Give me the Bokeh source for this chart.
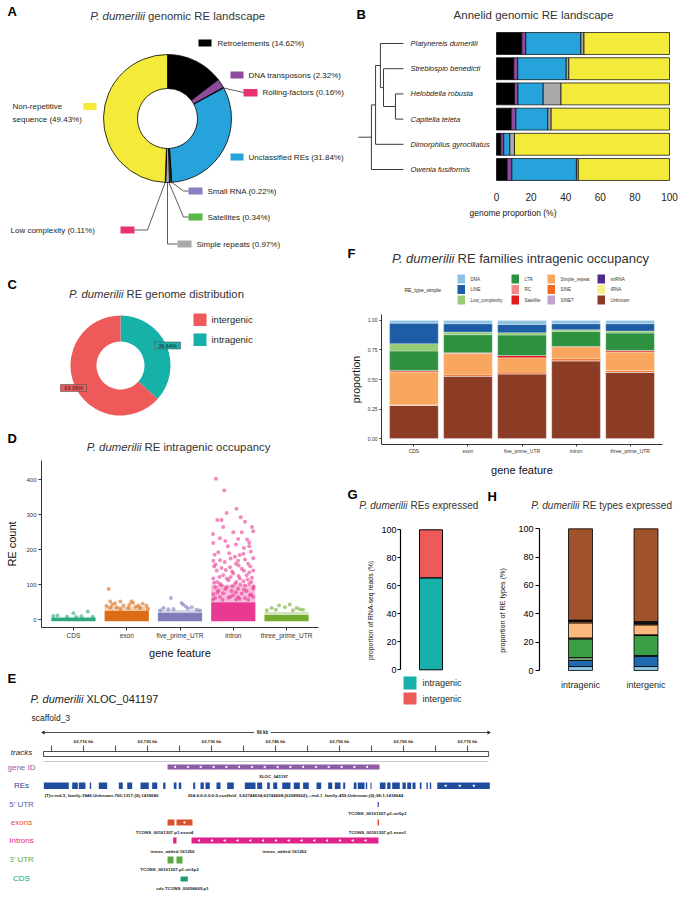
import numpy as np
from bokeh.plotting import figure
from bokeh.layouts import column, row
from bokeh.models import Range1d, Label, ColumnDataSource, FixedTicker, NumeralTickFormatter
from bokeh.core.properties import value
from bokeh.embed import file_html
from bokeh.resources import INLINE

FONT = "Liberation Sans"
INK = "#231F20"

# ============================ DATA ============================
# A  P. dumerilii genomic RE landscape (% genome)
a_classes = ["Retroelements", "DNA transposons", "Rolling-factors", "Unclassified REs",
             "Small RNA", "Satellites", "Simple repeats", "Low complexity",
             "Non-repetitive sequence"]
a_percent = [14.62, 2.32, 0.16, 31.84, 0.22, 0.34, 0.97, 0.11, 49.43]
a_colors = ["#000000", "#8E4A9B", "#E8336F", "#27A3DC", "#8C80C0", "#57B847",
            "#A7A9AB", "#E8336F", "#F4EA3A"]

# B  Annelid genomic RE landscape (% genome)
b_species = ["Platynereis dumerilii", "Streblospio benedicti", "Helobdella robusta",
             "Capitella teleta", "Dimorphilus gyrociliatus", "Owenia fusiformis"]
b_retro = [14.62, 10.0, 10.4, 8.5, 2.5, 6.2]
b_dna = [2.32, 2.3, 2.0, 2.7, 1.7, 2.7]
b_unclassified = [31.84, 28.0, 14.6, 18.5, 3.5, 37.3]
b_simple_other = [1.80, 1.5, 10.3, 1.9, 2.7, 1.1]
b_nonrep = [49.42, 58.2, 62.7, 68.4, 89.6, 52.7]
b_colors = ["#000000", "#8E4A9B", "#27A3DC", "#A7A9AB", "#F4EA3A"]
b_ticks = [0, 20, 40, 60, 80, 100]
b_tip_depth = -53.8
b_root_depth = -79.8
b_nodes = [("Helobdella robusta", "Capitella teleta", "n1", -58.4),
           ("Streblospio benedicti", "n1", "n2", -65.3),
           ("Platynereis dumerilii", "n2", "n3", -67.1),
           ("n3", "Dimorphilus gyrociliatus", "n4", -69.9),
           ("n4", "Owenia fusiformis", "n5", -72.3)]

# C  RE genome distribution (%)
c_cats = ["intergenic", "intragenic"]
c_percent = [63.36, 36.64]
c_colors = ["#EE5A5A", "#16B2AA"]

# D  RE count per gene feature (jittered clouds)
d_features = ["CDS", "exon", "five_prime_UTR", "intron", "three_prime_UTR"]
d_colors = ["#1B9E77", "#D95F02", "#7570B3", "#E7298A", "#66A61E"]
d_core_top = [6, 26, 20, 50, 14]
d_halo_top = [9, 38, 28, 100, 22]
d_cds_pts = [(0.00, 19), (0.27, 24), (-0.30, 12), (0.15, 10), (-0.12, 9), (0.36, 9),
             (-0.38, 11), (0.05, 8)]
d_exon_pts = [(-0.34, 88), (-0.31, 52), (-0.22, 47), (-0.12, 52), (0.09, 53), (0.12, 48),
              (0.22, 41), (0.30, 46), (0.37, 41), (-0.06, 41), (-0.19, 36), (0.03, 34),
              (-0.31, 35), (0.25, 34), (0.40, 31), (-0.12, 31), (0.17, 37), (-0.38, 40),
              (-0.27, 43), (0.05, 44)]
d_five_pts = [(-0.17, 62), (0.03, 48), (0.06, 43), (0.11, 38), (0.22, 36), (-0.31, 34),
              (-0.12, 31), (0.31, 29), (0.37, 27), (-0.37, 27), (-0.22, 30), (0.15, 32)]
d_intron_pts = [(-0.325, 403), (-0.17, 369), (-0.125, 305), (0.06, 317), (0.14, 293),
                (-0.30, 285), (-0.22, 285), (0.375, 253), (-0.19, 265), (0.0, 250),
                (0.16, 250), (0.09, 231), (0.26, 229), (0.30, 221), (-0.375, 219),
                (-0.25, 233), (-0.28, 193), (-0.075, 190), (0.19, 189), (0.03, 180),
                (0.375, 176), (-0.375, 169), (-0.16, 165), (0.09, 169), (0.28, 160),
                (-0.06, 150), (0.16, 146), (-0.31, 141), (0.375, 141), (0.0, 132),
                (-0.19, 127), (0.25, 127), (-0.375, 118), (0.125, 118), (-0.09, 113),
                (0.34, 108), (-0.25, 103), (0.03, 103), (0.22, 98), (-0.34, 93),
                (-0.125, 93), (0.09, 89), (0.375, 89), (-0.28, 84), (-0.03, 82),
                (0.25, 82), (-0.19, 76), (0.16, 75), (-0.375, 73), (0.0, 70),
                (0.31, 70), (-0.25, 65), (-0.09, 63), (0.09, 65), (0.22, 62),
                (0.375, 65), (-0.34, 62), (0.2, 205), (-0.1, 210), (0.33, 195),
                (-0.33, 158), (0.1, 155), (-0.22, 148), (0.3, 135), (-0.05, 122),
                (0.19, 110), (-0.3, 108), (-0.38, 58), (-0.2, 57), (0.05, 58),
                (0.28, 57), (0.12, 60), (-0.05, 66), (0.34, 72), (-0.3, 78), (0.05, 79),
                (0.2, 86), (-0.15, 88), (0.38, 95), (-0.02, 96), (-0.22, 99), (0.13, 101),
                (0.3, 104), (-0.36, 106), (0.06, 108), (-0.12, 118), (0.27, 115),
                (0.35, 120), (-0.26, 122), (0.1, 125), (-0.02, 138), (0.2, 140),
                (-0.14, 142), (0.32, 152), (-0.36, 152), (0.05, 160), (-0.25, 170),
                (0.22, 172), (-0.05, 175), (0.12, 185), (-0.35, 186), (0.3, 210),
                (-0.15, 225), (0.05, 215), (-0.38, 245), (0.35, 265), (0.22, 280)]
d_three_pts = [(-0.14, 41), (0.06, 44), (-0.03, 36), (0.19, 34), (-0.28, 34), (0.31, 29),
               (-0.37, 27), (0.12, 27), (0.25, 30), (-0.20, 29)]
d_ticks = [0, 100, 200, 300, 400]

# F  RE families intragenic occupancy (proportion)
f_features = ["CDS", "exon", "five_prime_UTR", "intron", "three_prime_UTR"]
f_types = ["DNA", "LINE", "Low_complexity", "LTR", "RC", "Satellite",
           "Simple_repeat", "SINE", "SINE?", "snRNA", "tRNA", "Unknown"]
f_colors = ["#8DC3E0", "#1C5DA6", "#96CB77", "#2E9140", "#F28A8A", "#E31A1C",
            "#F9A65E", "#F26B21", "#C0A3D1", "#4B2C8E", "#F3EF8E", "#8C3B25"]
f_DNA = [0.023, 0.028, 0.034, 0.028, 0.028]
f_LINE = [0.174, 0.071, 0.070, 0.051, 0.062]
f_Low_complexity = [0.062, 0.022, 0.020, 0.014, 0.017]
f_LTR = [0.164, 0.152, 0.172, 0.127, 0.147]
f_RC = [0.006, 0.005, 0.000, 0.000, 0.004]
f_Satellite = [0.008, 0.004, 0.020, 0.004, 0.010]
f_Simple_repeat = [0.276, 0.174, 0.121, 0.100, 0.155]
f_SINE = [0.005, 0.014, 0.014, 0.017, 0.014]
f_SINEq = [0.0, 0.0, 0.0, 0.0, 0.0]
f_snRNA = [0.0, 0.0, 0.0, 0.0, 0.0]
f_tRNA = [0.0, 0.0, 0.0, 0.0, 0.0]
f_Unknown = [0.282, 0.530, 0.549, 0.659, 0.563]

# G  REs expressed (% RNA-seq reads)
g_cats = ["intragenic", "intergenic"]
g_percent = [65.7, 34.3]
g_colors = ["#16B2AA", "#EE5A5A"]

# H  RE types expressed (% of RE types)
h_groups = ["intragenic", "intergenic"]
h_types = ["DNA", "LINE", "Low_complexity", "LTR", "RC", "Simple_repeat", "SINE",
           "snRNA", "Unknown"]
h_colors = ["#8CC5E3", "#1E69B0", "#7FA779", "#3A9E44", "#E8636A", "#FDB97D",
            "#D9782F", "#1A1A1A", "#A0522D"]
h_DNA = [2.8, 2.8]
h_LINE = [4.3, 7.1]
h_Low_complexity = [2.0, 0.7]
h_LTR = [13.2, 14.1]
h_RC = [0.7, 0.5]
h_Simple_repeat = [10.6, 7.0]
h_SINE = [1.0, 0.8]
h_snRNA = [1.0, 1.5]
h_Unknown = [64.4, 65.5]
h_ticks = [0, 20, 40, 60, 80, 100]

# E  genome browser, scaffold_3 (kb)
e_ruler = (62703.75, 62773.30)
e_major_kb = [62710, 62720, 62730, 62740, 62750, 62760, 62770]
e_minor_kb = [62705, 62715, 62725, 62735, 62745, 62755, 62765]
e_gene = (62723.13, 62756.25)
e_gene_name = "XLOC_041197"
e_re_start = [62703.80, 62708.23, 62709.27, 62710.98, 62712.39, 62715.52, 62716.83,
              62718.91, 62720.73, 62722.45, 62724.11, 62724.89, 62727.14, 62728.28,
              62729.06, 62730.78, 62732.45, 62735.20, 62737.14, 62738.70, 62739.64,
              62741.05, 62742.86, 62744.31, 62746.41, 62748.23, 62749.27, 62750.58,
              62752.23, 62752.86, 62754.11, 62754.84, 62756.30, 62757.45, 62758.23,
              62759.84, 62760.58, 62761.41, 62762.55, 62763.59, 62764.11, 62765.27]
e_re_end = [62707.70, 62709.11, 62710.31, 62711.20, 62713.70, 62716.14, 62717.61,
            62720.20, 62721.52, 62722.81, 62724.53, 62725.27, 62727.45, 62728.80,
            62729.73, 62731.41, 62733.48, 62736.88, 62737.92, 62739.11, 62740.27,
            62742.34, 62743.80, 62745.20, 62747.14, 62748.86, 62750.16, 62750.89,
            62752.66, 62753.91, 62754.33, 62755.00, 62757.19, 62757.97, 62759.42,
            62760.36, 62761.20, 62761.88, 62762.81, 62763.80, 62764.33, 62773.48]
e_utr5 = [(62755.94, 62756.17)]
e_exons = [(62723.13, 62724.22), (62724.53, 62727.03), (62755.94, 62756.17)]
e_introns = [(62724.00, 62724.53), (62726.88, 62756.09)]
e_utr3 = [(62723.13, 62724.06), (62724.53, 62725.47)]
e_cds = [(62725.16, 62726.30)]
e_tracks = ["tracks", "gene ID", "REs", "5' UTR", "exons", "Introns", "3' UTR", "CDS"]
e_track_colors = ["#231F20", "#8E5AA8", "#23429B", "#4E5BA8", "#E0552B", "#E01F8A",
                  "#5AAA46", "#1E9C6E"]
e_re_names = ["(T)n;rnd-5_family-3946;Unknown;700;1317;(0);1418680",
              "264;6.6;0.0;0.0;scaffold_3;62744634;62744668;(62089602);-;rnd-1_family-459;Unknown;(0);38;1;1418644"]


# ============================ HELPERS ============================
def pixfig(x0, x1, y0, y1):
    p = figure(width=int(x1 - x0), height=int(y1 - y0),
               x_range=Range1d(x0, x1), y_range=Range1d(y1, y0),
               x_axis_type=None, y_axis_type=None,
               toolbar_location=None, output_backend="svg",
               min_border=0, min_border_left=0, min_border_right=0,
               min_border_top=0, min_border_bottom=0, outline_line_color=None)
    return p


def lab(p, x, y, text, size=8, color=INK, align="left", base="middle", style="normal", angle=0):
    p.add_layout(Label(x=x, y=y, text=text, text_font=FONT, text_font_size=f"{size}px",
                       text_color=color, text_align=align, text_baseline=base,
                       text_font_style=style, angle=angle))


def title2(p, x_it, x_rest, y, ital, rest, size, color="#333333"):
    lab(p, x_it, y, ital, size, color, align="right", style="italic")
    lab(p, x_rest, y, rest, size, color, align="left")


def letter(p, x, y, t):
    lab(p, x, y, t, 13, "#000000", style="bold")


def style_axis(ax, lab_size, title_size, color="#333333", tick_out=3, width=1):
    ax.axis_line_color = color
    ax.axis_line_width = width
    ax.major_tick_line_color = color
    ax.major_tick_line_width = width
    ax.major_tick_out = tick_out
    ax.major_tick_in = 0
    ax.minor_tick_line_color = None
    ax.major_label_text_font = FONT
    ax.major_label_text_font_size = f"{lab_size}px"
    ax.major_label_text_color = color
    ax.axis_label_text_font = FONT
    ax.axis_label_text_font_style = "normal"
    ax.axis_label_text_font_size = f"{title_size}px"
    ax.axis_label_text_color = "#111111"


def box(p):
    return column(p, spacing=0)


# ============================ PANEL A ============================
pA = pixfig(0, 346, 0, 272)
letter(pA, 7, 11, "A")
title2(pA, 144.5, 147.5, 15, "P. dumerilii", "genomic RE landscape", 11.4)
a_cum = np.concatenate([[0.0], np.cumsum(a_percent)])
pA.annular_wedge(x=167, y=118, inner_radius=30, outer_radius=64,
                 start_angle=np.pi / 2 - 2 * np.pi * a_cum[:-1] / 100,
                 end_angle=np.pi / 2 - 2 * np.pi * a_cum[1:] / 100,
                 direction="clock", fill_color=a_colors, line_color="black", line_width=0.8)
a_sq = [(198, 211, 39, 46), (230, 243, 71, 78), (243, 257, 88.5, 96), (230, 243, 153, 160),
        (188, 202, 187, 194), (188, 202, 213, 220), (177, 191, 240, 247),
        (120, 134, 226, 233), (83, 96, 102.5, 109.5)]
pA.quad(left=[s[0] for s in a_sq], right=[s[1] for s in a_sq],
        top=[s[2] for s in a_sq], bottom=[s[3] for s in a_sq],
        fill_color=a_colors, line_color=None)
a_txt = [(217, 42.5), (248, 74.5), (262, 92), (248, 156.5), (207, 190.5), (207, 216.5),
         (196, 243.5), (10, 229.5)]
for i, (tx, ty) in enumerate(a_txt):
    lab(pA, tx, ty, f"{a_classes[i]} ({a_percent[i]:.2f}%)", 8)
lab(pA, 12, 106, "Non-repetitive", 8)
lab(pA, 12, 118.5, f"sequence ({a_percent[8]:.2f}%)", 8)
pA.multi_line(xs=[[221, 243], [170, 183, 188], [168, 183, 188], [167, 167, 177], [165, 147, 134]],
              ys=[[87, 92], [181, 190.5, 190.5], [181, 216.5, 216.5], [182, 243.5, 243.5],
                  [181, 229.5, 229.5]], line_color="#333333", line_width=0.8)

# ============================ PANEL C ============================
pC = pixfig(0, 346, 272, 425)
letter(pC, 7, 284, "C")
title2(pC, 123, 126, 293, "P. dumerilii", "RE genome distribution", 11.3)
c_order = [1, 0]
c_vals = [c_percent[i] for i in c_order]
c_cum = np.concatenate([[0.0], np.cumsum(c_vals)])
pC.annular_wedge(x=120, y=365, inner_radius=24, outer_radius=50,
                 start_angle=np.pi / 2 - 2 * np.pi * c_cum[:-1] / 100,
                 end_angle=np.pi / 2 - 2 * np.pi * c_cum[1:] / 100,
                 direction="clock", fill_color=[c_colors[i] for i in c_order], line_color=None)
c_lab_pos = [(73, 387.5), (167, 345)]
for i, (lx, ly) in enumerate(c_lab_pos):
    pC.rect(x=lx, y=ly, width=26, height=7, fill_color=c_colors[i], line_color="#555555",
            line_width=0.6)
    lab(pC, lx, ly, f"{c_percent[i]:.2f}%", 5.5, "#222222", align="center")
c_leg_y = [(313, 325.5), (333, 345.5)]
pC.quad(left=[193, 193], right=[206, 206], top=[c[0] for c in c_leg_y],
        bottom=[c[1] for c in c_leg_y], fill_color=c_colors, line_color=None)
for i, (t, b) in enumerate(c_leg_y):
    lab(pC, 211, (t + b) / 2, c_cats[i], 9.5)

# ============================ PANEL D ============================
pDh = pixfig(0, 346, 425, 455)
letter(pDh, 7, 438, "D")
title2(pDh, 141, 144, 446, "P. dumerilii", "RE intragenic occupancy", 11.4)

pD = figure(width=346, height=210, x_range=Range1d(0.4, 5.6), y_range=Range1d(-22, 455),
            toolbar_location=None, output_backend="svg", outline_line_color=None,
            min_border_left=41, min_border_right=28, min_border_top=5, min_border_bottom=38)
pD.xgrid.visible = False
pD.ygrid.visible = False
d_x = np.arange(1, len(d_features) + 1)
pD.vbar(x=d_x, width=0.83, bottom=d_core_top, top=d_halo_top, fill_color=d_colors,
        fill_alpha=0.3, line_color=None)
pD.vbar(x=d_x, width=0.83, bottom=-4, top=d_core_top, fill_color=d_colors,
        fill_alpha=0.92, line_color=None)
for i, pts in enumerate([d_cds_pts, d_exon_pts, d_five_pts, d_intron_pts, d_three_pts]):
    pD.scatter(x=[i + 1 + p[0] for p in pts], y=[p[1] for p in pts], size=4,
               fill_color=d_colors[i], fill_alpha=0.55, line_color=None)
style_axis(pD.xaxis[0], 6.5, 11)
style_axis(pD.yaxis[0], 6, 11)
pD.xaxis.ticker = FixedTicker(ticks=list(d_x))
pD.xaxis.major_label_overrides = {int(k): v for k, v in zip(d_x, d_features)}
pD.xaxis.major_label_standoff = 1
pD.xaxis.axis_label = "gene feature"
pD.xaxis.axis_label_standoff = 5
pD.yaxis.ticker = FixedTicker(ticks=d_ticks)
pD.yaxis.major_label_standoff = 2
pD.yaxis.axis_label = "RE count"
pD.yaxis.axis_label_standoff = 5

# ============================ PANEL E header ============================
pEh = pixfig(0, 346, 665, 705)
letter(pEh, 7, 678, "E")
title2(pEh, 83, 86, 698, "P. dumerilii", "XLOC_041197", 11, "#222222")

# ============================ PANEL B ============================
bx = lambda r: (r - 496) / 1.73
by_ = lambda r: 1 + (r - 43) / 25.2
pB = figure(width=333, height=244, x_range=Range1d(bx(346), bx(679)),
            y_range=Range1d(by_(190), by_(0)),
            toolbar_location=None, output_backend="svg", outline_line_color=None,
            y_axis_type=None, min_border_left=0, min_border_right=0, min_border_top=0,
            min_border_bottom=54)
pB.grid.visible = False
b_rows = list(range(1, len(b_species) + 1))
b_src = ColumnDataSource(dict(row=b_rows, retro=b_retro, dna=b_dna, unclassified=b_unclassified,
                              simple_other=b_simple_other, nonrep=b_nonrep))
pB.hbar_stack(["retro", "dna", "unclassified", "simple_other", "nonrep"], y="row", height=0.87,
              color=b_colors, line_color="black", line_width=0.7, source=b_src)
pB.text(x=[bx(410)] * len(b_species), y=b_rows, text=b_species, text_font=value(FONT),
        text_font_size="7.5px", text_font_style="italic", text_baseline="middle",
        text_color="#222222")
b_pos = {s: (b_tip_depth, r) for s, r in zip(b_species, b_rows)}
b_xs, b_ys = [], []
for a, b, name, nx in b_nodes:
    (ax_, ay), (bx_, byy) = b_pos[a], b_pos[b]
    b_xs += [[nx, nx], [nx, ax_], [nx, bx_]]
    b_ys += [[ay, byy], [ay, ay], [byy, byy]]
    b_pos[name] = (nx, (ay + byy) / 2)
b_xs.append([b_root_depth, b_pos["n5"][0]])
b_ys.append([b_pos["n5"][1], b_pos["n5"][1]])
pB.multi_line(xs=b_xs, ys=b_ys, line_color="#3a3a3a", line_width=1)
style_axis(pB.xaxis[0], 10, 8.5)
pB.xaxis.ticker = FixedTicker(ticks=b_ticks)
pB.xaxis.axis_line_color = None
pB.xaxis.major_tick_line_color = None
pB.xaxis.major_tick_out = 0
pB.xaxis.major_label_standoff = 2
pB.xaxis.major_label_text_color = "#222222"
pB.xaxis.axis_label = "genome proportion (%)"
pB.xaxis.axis_label_standoff = 4
lab(pB, bx(356), by_(14), "B", 13, "#000000", style="bold")
lab(pB, bx(533), by_(14), "Annelid genomic RE landscape", 11.5, "#333333", align="center")

# ============================ PANEL F ============================
pFh = pixfig(346, 679, 244, 306)
letter(pFh, 347, 253, "F")
title2(pFh, 454, 457, 258, "P. dumerilii", "RE families intragenic occupancy", 13)
lab(pFh, 404, 289, "RE_type_simple", 5)
f_col_x = [457, 511, 547, 597]
f_row_y = [278.5, 289, 299.5]
for k, t in enumerate(f_types):
    cx, ry = f_col_x[k // 3], f_row_y[k % 3]
    pFh.quad(left=cx, right=cx + 7.5, top=ry - 4.5, bottom=ry + 4.5, fill_color=f_colors[k],
             line_color=None)
    lab(pFh, cx + 13, ry, t, 4.5, "#333333")

pF = figure(width=333, height=174, x_range=Range1d(0.4, 5.6), y_range=Range1d(-0.05, 1.05),
            toolbar_location=None, output_backend="svg", outline_line_color=None,
            min_border_left=30, min_border_right=17, min_border_top=8, min_border_bottom=36)
pF.xgrid.visible = False
pF.ygrid.visible = False
f_x = list(range(1, len(f_features) + 1))
f_src = ColumnDataSource(dict(x=f_x, DNA=f_DNA, LINE=f_LINE, Low_complexity=f_Low_complexity,
                              LTR=f_LTR, RC=f_RC, Satellite=f_Satellite,
                              Simple_repeat=f_Simple_repeat, SINE=f_SINE, SINEq=f_SINEq,
                              snRNA=f_snRNA, tRNA=f_tRNA, Unknown=f_Unknown))
f_fields = ["DNA", "LINE", "Low_complexity", "LTR", "RC", "Satellite", "Simple_repeat",
            "SINE", "SINEq", "snRNA", "tRNA", "Unknown"]
pF.vbar_stack(f_fields[::-1], x="x", width=0.9, color=f_colors[::-1], source=f_src,
              line_color="white", line_width=0.4, line_alpha=0.7)
style_axis(pF.xaxis[0], 5, 11, tick_out=2)
style_axis(pF.yaxis[0], 5, 10.5, tick_out=2)
pF.xaxis.ticker = FixedTicker(ticks=f_x)
pF.xaxis.major_label_overrides = {int(k): v for k, v in zip(f_x, f_features)}
pF.xaxis.major_label_standoff = 1
pF.xaxis.axis_label = "gene feature"
pF.xaxis.axis_label_standoff = 7
pF.yaxis.ticker = FixedTicker(ticks=[0, 0.25, 0.5, 0.75, 1.0])
pF.yaxis.formatter = NumeralTickFormatter(format="0.00")
pF.yaxis.major_label_standoff = 2
pF.yaxis.axis_label = "proportion"
pF.yaxis.axis_label_standoff = 3

# ============================ PANELS G / H ============================
pGHh = pixfig(346, 679, 480, 515)
letter(pGHh, 347, 494, "G")
title2(pGHh, 407, 410, 505, "P. dumerilii", "REs expressed", 10)
letter(pGHh, 487, 496, "H")
title2(pGHh, 579, 582, 505, "P. dumerilii", "RE types expressed", 10)

gy = lambda r: (669.3 - r) / 1.4
pG = figure(width=138, height=190, x_range=Range1d(400, 484), y_range=Range1d(gy(705), gy(515)),
            toolbar_location=None, output_backend="svg", outline_line_color=None,
            x_axis_type=None, min_border_left=54, min_border_right=0, min_border_top=0,
            min_border_bottom=0)
pG.grid.visible = False
g_src = ColumnDataSource(dict(x=[430.5], intragenic=[g_percent[0]], intergenic=[g_percent[1]]))
pG.vbar_stack(g_cats, x="x", width=23, color=g_colors, source=g_src, line_color="black",
              line_width=1)
style_axis(pG.yaxis[0], 9, 6.8, color="#000000", tick_out=3, width=1.2)
pG.yaxis.bounds = (0, 100)
pG.yaxis.ticker = FixedTicker(ticks=h_ticks)
pG.yaxis.major_label_standoff = 1
pG.yaxis.axis_label = "proportion of RNA-seq reads (%)"
pG.yaxis.axis_label_standoff = 4
g_leg = [(676, 689), (692, 704)]
pG.quad(left=[403, 403], right=[416, 416], top=[gy(t) for t, b in g_leg],
        bottom=[gy(b) for t, b in g_leg], fill_color=g_colors, line_color=None)
for i, (t, b) in enumerate(g_leg):
    lab(pG, 422, gy((t + b) / 2), g_cats[i], 9)

hy = lambda r: (670 - r) / 1.417
pH = figure(width=195, height=190, x_range=Range1d(539, 679), y_range=Range1d(hy(705), hy(515)),
            toolbar_location=None, output_backend="svg", outline_line_color=None,
            x_axis_type=None, min_border_left=55, min_border_right=0, min_border_top=0,
            min_border_bottom=0)
pH.grid.visible = False
h_x = [580, 645.5]
h_src = ColumnDataSource(dict(x=h_x, DNA=h_DNA, LINE=h_LINE, Low_complexity=h_Low_complexity,
                              LTR=h_LTR, RC=h_RC, Simple_repeat=h_Simple_repeat, SINE=h_SINE,
                              snRNA=h_snRNA, Unknown=h_Unknown))
pH.vbar_stack(h_types, x="x", width=24, color=h_colors, source=h_src, line_color="black",
              line_width=0.8)
style_axis(pH.yaxis[0], 9, 7.2, color="#000000", tick_out=4, width=1.2)
pH.yaxis.bounds = (0, 100)
pH.yaxis.ticker = FixedTicker(ticks=h_ticks)
pH.yaxis.major_label_standoff = 2
pH.yaxis.axis_label = "proportion of RE types (%)"
pH.yaxis.axis_label_standoff = 8
for xx, g in zip(h_x, h_groups):
    lab(pH, xx, hy(684), g, 9, align="center")

# ============================ PANEL E body ============================
kx = lambda r: 62710 + (r - 83) / 6.4
pE = figure(width=679, height=193, x_range=Range1d(kx(0), kx(679)), y_range=Range1d(898, 705),
            x_axis_type=None, y_axis_type=None, toolbar_location=None, output_backend="svg",
            min_border=0, min_border_left=0, min_border_right=0, min_border_top=0,
            min_border_bottom=0, outline_line_color=None)
lab(pE, kx(31), 717, "scaffold_3", 8.5, "#222222")
e_span = e_ruler[1] - e_ruler[0]
e_mid = kx(262)
pE.segment(x0=[e_ruler[0], e_mid + 1.3], x1=[e_mid - 1.3, e_ruler[1]], y0=[732, 732],
           y1=[732, 732], line_color="#222222", line_width=0.8)
pE.scatter(x=[e_ruler[0], e_ruler[1]], y=[732, 732], marker="triangle", size=4,
           angle=[np.pi / 2, -np.pi / 2], fill_color="#222222", line_color=None)
lab(pE, e_mid, 732, f"{int(e_span)} kb", 4.5, "#222222", align="center", style="bold")
e_all_ticks = sorted(e_major_kb + e_minor_kb)
pE.segment(x0=e_all_ticks, x1=e_all_ticks, y0=[745] * len(e_all_ticks),
           y1=[751] * len(e_all_ticks), line_color="#222222", line_width=0.8)
for kb in e_major_kb:
    lab(pE, kb, 741, f"{kb:,} kb", 4.3, "#222222", align="center", style="bold")
pE.quad(left=e_ruler[0], right=e_ruler[1], top=751, bottom=756, fill_color="white",
        line_color="#222222", line_width=0.8)
pE.segment(x0=e_ruler[0], x1=e_ruler[1], y0=761, y1=761, line_color="#C5CAD6", line_width=1)
e_track_y = [752, 766.5, 785, 804, 822, 840, 858.5, 877.5]
for t, c, yy in zip(e_tracks, e_track_colors, e_track_y):
    lab(pE, kx(21), yy, t, 8, c, align="center", style="italic" if t == "tracks" else "normal")
pE.quad(left=e_gene[0], right=e_gene[1], top=764, bottom=769, fill_color="#8E5AA8",
        line_color=None)
pE.quad(left=e_re_start, right=e_re_end, top=782, bottom=788.5, fill_color="#1F4C9C",
        line_color=None)
for feats, y0, y1, col in [(e_utr5, 801.5, 806.5, "#5A63B0"), (e_exons, 819, 825, "#D9542B"),
                           (e_introns, 837, 843, "#E0228C"), (e_utr3, 856, 863, "#5BAA46"),
                           (e_cds, 876, 881, "#1E9C6E")]:
    pE.quad(left=[f[0] for f in feats], right=[f[1] for f in feats], top=y0, bottom=y1,
            fill_color=col, line_color=None)
chev_x, chev_y = [], []
for (s, e), yy, step in [(e_gene, 766.5, 2.0), (e_introns[1], 840, 2.0),
                         ((e_re_start[-1], e_re_end[-1]), 785.2, 2.2)]:
    xs = list(np.arange(s + step * 0.6, e - 0.3, step))
    chev_x += xs
    chev_y += [yy] * len(xs)
chev_x.append((e_exons[1][0] + e_exons[1][1]) / 2)
chev_y.append(822)
pE.scatter(x=chev_x, y=chev_y, marker="triangle", size=3, angle=np.pi / 2,
           fill_color="white", line_color=None)
e_labels = [(e_gene_name, (e_gene[0] + e_gene[1]) / 2, 776),
            (e_re_names[0], kx(101), 795), (e_re_names[1], kx(295), 795),
            ("TCONS_00101307.p1.utr5p1", e_utr5[0][0], 813),
            ("TCONS_00101307.p1.exon4", kx(164), 832),
            ("TCONS_00101307.p1.exon1", e_exons[2][0], 832),
            ("intron_added-161250", kx(172), 851),
            ("intron_added-161262", kx(284), 851),
            ("TCONS_00101307.p1.utr3p3", kx(169), 869),
            ("cds.TCONS_00096669.p1", kx(182), 888)]
for t, xx, yy in e_labels:
    lab(pE, xx, yy, t, 4.4, "#222222", align="center", style="bold")

# ============================ LAYOUT ============================
left = column(box(pA), box(pC), box(pDh), box(pD), box(pEh), spacing=0)
right = column(box(pB), box(pFh), box(pF), box(pGHh), row(box(pG), box(pH), spacing=0),
               spacing=0)
page = column(row(left, right, spacing=0), box(pE), spacing=0)

open("out.html", "w").write(file_html(page, INLINE))
